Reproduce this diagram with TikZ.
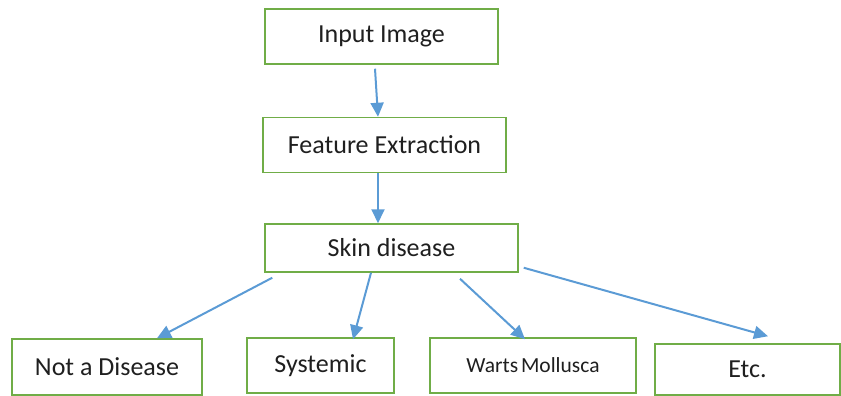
\documentclass[tikz,border=0pt]{standalone}
\usepackage{fontspec}
\setmainfont{Carlito}
\usetikzlibrary{arrows.meta, positioning}
\definecolor{boxgreen}{RGB}{112,173,71}
\definecolor{arrowblue}{RGB}{91,155,213}
\tikzstyle{flow}=[font=\fontsize{26}{31}\selectfont]
\tikzstyle{stage}=[draw=boxgreen, line width=1.5pt, inner sep=0pt, text=black!88]
\tikzstyle{link}=[-{Triangle[length=14pt,width=13pt]}, draw=arrowblue, fill=arrowblue, line width=2pt]

\begin{document}
\begin{tikzpicture}[flow, x=1pt, y=-1pt]
  \useasboundingbox (0,0) rectangle (841,396);
  \node[stage, minimum width=233pt, minimum height=55pt] (input) at (381.5,36.5) {Input Image};
  \node[stage, minimum width=243pt, minimum height=55pt] (feat) [below=52pt of input, xshift=3pt] {Feature Extraction};
  \node[stage, minimum width=253pt, minimum height=48pt] (skin) [below=50pt of feat, xshift=7pt] {Skin disease};
  \node[stage, minimum width=190pt, minimum height=56pt] (notdis) at (107,367) {Not a Disease};
  \node[stage, minimum width=147pt, minimum height=55pt] (syst) at (320.5,365.5) {Systemic};
  \node[stage, minimum width=206pt, minimum height=55pt, font=\fontsize{21.5}{26}\selectfont] (warts) at (533,365.5) {Warts\hspace{-2pt} Mollusca};
  \node[stage, minimum width=185pt, minimum height=51pt] (etc) at (747.5,369.5) {Etc.};
  \draw[link] ([xshift=-6.5pt,yshift=-4pt]input.south) -- ([xshift=-6.5pt]feat.north);
  \draw[link] ([xshift=-6.5pt]feat.south) -- ([xshift=-13.5pt]skin.north);
  \draw[link] ([xshift=8pt,yshift=-5pt]skin.south west) -- ([xshift=50pt]notdis.north);
  \draw[link] ([xshift=-20.5pt]skin.south) -- ([xshift=32.5pt,yshift=-2pt]syst.north);
  \draw[link] ([xshift=68.5pt,yshift=-6pt]skin.south) -- ([xshift=-8pt,yshift=-2pt]warts.north);
  \draw[link] ([xshift=5pt,yshift=5pt]skin.south east) -- ([xshift=20.5pt,yshift=7pt]etc.north);
\end{tikzpicture}
\end{document}
